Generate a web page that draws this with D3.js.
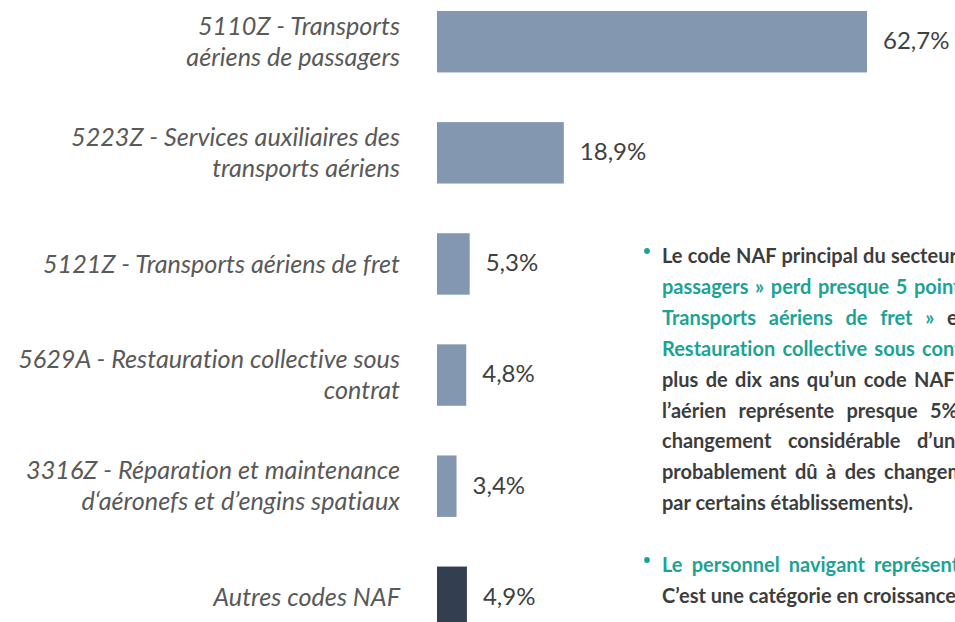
<!DOCTYPE html>
<html>
<head>
<meta charset="utf-8">
<script src="https://cdn.jsdelivr.net/npm/d3@7"></script>
<style>
  html, body { margin: 0; padding: 0; background: #ffffff; overflow: hidden; }
  svg { display: block; }
  text { font-variant-ligatures: none; }
</style>
</head>
<body>
<svg id="chart" width="955" height="622"></svg>
<script>
// Répartition des effectifs par code NAF (part en %)
const categories = [
  "5110Z - Transports aériens de passagers",
  "5223Z - Services auxiliaires des transports aériens",
  "5121Z - Transports aériens de fret",
  "5629A - Restauration collective sous contrat",
  "3316Z - Réparation et maintenance d‘aéronefs et d’engins spatiaux",
  "Autres codes NAF"
];
// Category labels, broken into the lines they are displayed on
const categoryLines = [
  ["5110Z - Transports", "aériens de passagers"],
  ["5223Z - Services auxiliaires des", "transports aériens"],
  ["5121Z - Transports aériens de fret"],
  ["5629A - Restauration collective sous", "contrat"],
  ["3316Z - Réparation et maintenance", "d‘aéronefs et d’engins spatiaux"],
  ["Autres codes NAF"]
];
const shares = [62.7, 18.9, 5.3, 4.8, 3.4, 4.9];
const isOther = [false, false, false, false, false, true];

// Commentary paragraphs: each line is a list of [text, tone] runs
const notes = [
  [
    [["Le code NAF principal du secteur", "dark"]],
    [["passagers » perd presque 5 points", "teal"]],
    [["Transports aériens de fret »", "teal"], [" et", "dark"]],
    [["Restauration collective sous contrat", "teal"]],
    [["plus de dix ans qu’un code NAF", "dark"]],
    [["l’aérien représente presque 5%", "dark"]],
    [["changement considérable d’un", "dark"]],
    [["probablement dû à des changements", "dark"]],
    [["par certains établissements).", "dark"]]
  ],
  [
    [["Le personnel navigant représente", "teal"]],
    [["C’est une catégorie en croissance", "dark"]]
  ]
];
// Position where the last word of each justified line begins (null = ragged last line)
const noteJustify = [
  [891, 914, 947, 922, 914, 930, 917, 884, null],
  [874, null]
];

const W = 955, H = 622;
const colors = { bar: "#8497b0", other: "#333f50", label: "#595959", value: "#404040",
                 dark: "#3d3d3d", teal: "#1ba396" };
const fontStack = "Lato, 'Open Sans', 'Noto Sans', sans-serif";

const svg = d3.select("#chart");

const frLocale = d3.formatLocale({ decimal: ",", thousands: " ", grouping: [3], currency: ["", " €"] });
const fmt = v => frLocale.format(".1f")(v) + "%";

const x = d3.scaleLinear().domain([0, d3.max(shares)]).range([433, 867]);
const y = d3.scaleBand().domain(categories).range([11, 628]).paddingInner(0.447).paddingOuter(0);

const data = categories.map((c, i) => ({ cat: c, v: shares[i], lines: categoryLines[i], other: isOther[i] }));

// Bars
svg.append("g").selectAll("rect").data(data).join("rect")
  .attr("x", x(0))
  .attr("y", d => y(d.cat))
  .attr("width", d => x(d.v) - x(0))
  .attr("height", y.bandwidth())
  .attr("fill", d => d.other ? colors.other : colors.bar);

// Category axis line (white, hides the baseline)
svg.append("line")
  .attr("x1", x(0)).attr("x2", x(0))
  .attr("y1", 0).attr("y2", H)
  .attr("stroke", "#ffffff").attr("stroke-width", 8);

// Category labels
const lineH = 31;
const labels = svg.append("g")
  .attr("font-family", fontStack)
  .attr("font-style", "italic")
  .attr("font-size", 25.2)
  .attr("fill", colors.label)
  .attr("text-anchor", "end");
data.forEach(d => {
  const cy = y(d.cat) + y.bandwidth() / 2;
  const n = d.lines.length;
  const t = labels.append("text").attr("x", 400).attr("y", cy);
  d.lines.forEach((ln, k) => {
    t.append("tspan")
      .attr("x", 400)
      .attr("y", cy + (k - (n - 1) / 2) * lineH)
      .attr("dy", "0.35em")
      .text(ln);
  });
});

// Value labels
svg.append("g")
  .attr("font-family", fontStack)
  .attr("font-size", 24)
  .attr("fill", colors.value)
  .selectAll("text").data(data).join("text")
  .attr("x", d => x(d.v) + 16)
  .attr("y", d => y(d.cat) + y.bandwidth() / 2 - 1)
  .attr("dy", "0.35em")
  .text(d => fmt(d.v));

// Commentary block
const noteX = 662, noteY0 = 263, noteLH = 30.9;
const notesG = svg.append("g")
  .attr("font-family", fontStack)
  .attr("font-weight", 700)
  .attr("font-size", 20);
let row = 0;
notes.forEach((para, p) => {
  const bulletY = noteY0 + row * noteLH - 12;
  notesG.append("circle").attr("cx", 647).attr("cy", bulletY).attr("r", 2.9).attr("fill", colors.teal);
  para.forEach((line, li) => {
    const t = notesG.append("text").attr("x", noteX).attr("y", noteY0 + row * noteLH);
    line.forEach(([txt, tone]) => t.append("tspan").attr("fill", colors[tone]).text(txt));
    const target = noteJustify[p][li];
    if (target != null) {
      const full = line.map(r => r[0]).join("");
      const idx = full.lastIndexOf(" ") + 1;
      const gaps = (full.slice(0, idx).match(/ /g) || []).length;
      const pos = t.node().getStartPositionOfChar(idx).x;
      const ws = (target - pos) / gaps;
      t.style("word-spacing", ws + "px");
    }
    row++;
  });
  row++;
});
</script>
</body>
</html>
